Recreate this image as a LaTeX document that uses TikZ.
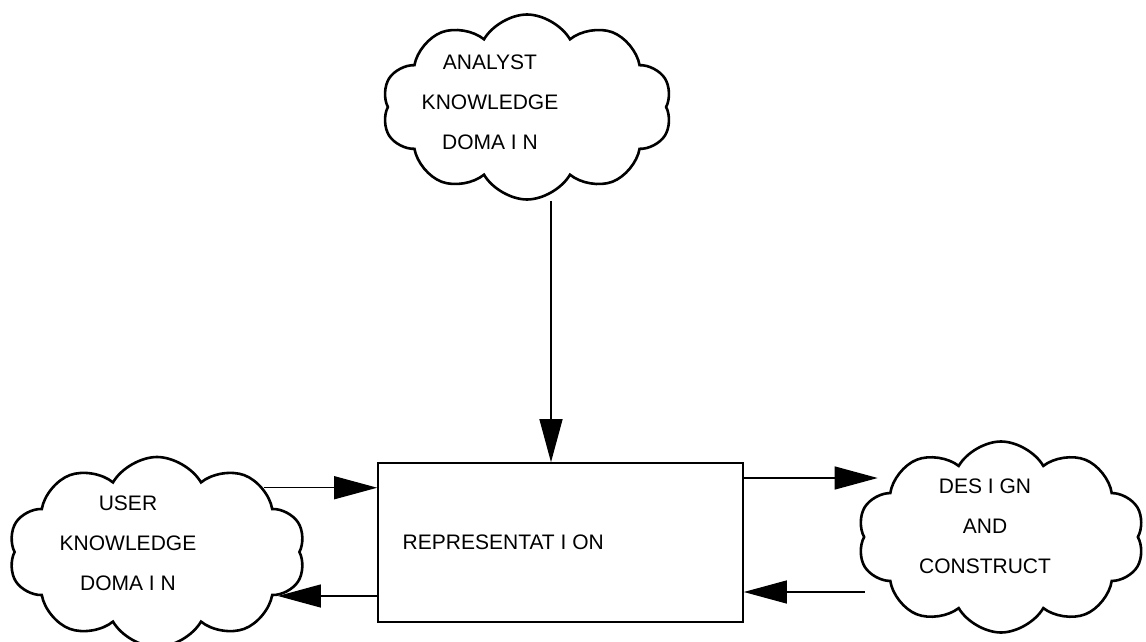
\documentclass[tikz,border=0pt]{standalone}
\usepackage{fontspec}
\setmainfont{Liberation Sans}
\usetikzlibrary{shapes.symbols,arrows.meta,positioning}

\begin{document}
\begin{tikzpicture}[x=1pt,y=-1pt,
		blob/.style={cloud,draw,line width=2.6pt,cloud puffs=10,cloud puff arc=120,cloud ignores aspect,inner sep=0pt},
		txt/.style={align=center,font=\fontsize{21}{40}\selectfont},
		flow/.style={line width=1.3pt,-{Triangle[length=43pt,width=23pt]}}]
	\useasboundingbox (0,0) rectangle (1146,642);

	\node[blob,minimum width=290pt,minimum height=185pt] (analyst) at (527,107) {};
	\node[blob,minimum width=297pt,minimum height=190pt] (user) at (157,552) {};
	\node[blob,minimum width=287pt,minimum height=191pt] (design) at (1001,537) {};
	\node[draw,line width=1.6pt,minimum width=365pt,minimum height=159pt] (rep) at (560.5,542.5) {};

	\node[txt] (analysttxt) at (490,102) {ANALYST\\KNOWLEDGE\\DOMA I N};
	\node[txt] (usertxt) at (128,543) {USER\\KNOWLEDGE\\DOMA I N};
	\node[txt] (designtxt) at (985,526) {DES I GN\\AND\\CONSTRUCT};
	\node[txt,anchor=west] (reptxt) at ([xshift=22pt]rep.west) {REPRESENTAT I ON};

	\coordinate (drop) at ([xshift=-9.5pt]rep.north);
	\coordinate (din) at ([xshift=15pt,yshift=59pt]design.west);
	\coordinate (dout) at ([xshift=2pt,yshift=-55pt]design.west);
	\draw[flow] (analyst.south -| drop) -- (drop);
	\draw[flow] (user.31) -- (user.31 -| rep.west);
	\draw[flow] (rep.west |- user.-20) -- (user.-20);
	\draw[flow] (rep.east |- din) -- (din);
	\draw[flow] (dout) -- (dout -| rep.east);

\end{tikzpicture}
\end{document}
